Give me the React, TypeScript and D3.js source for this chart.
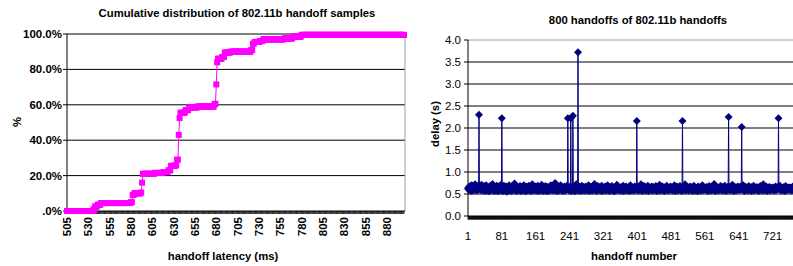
import React from "react";
import * as d3 from "d3";

// ---- left chart: CDF of handoff latency (step breakpoints)
const cdfLatency = [505, 536, 538, 541, 545, 580, 582, 584, 592, 593, 594, 608, 618, 624, 627, 633, 634, 636, 637, 638, 644, 648, 658, 678, 680, 681, 682, 687, 690, 697, 721, 723, 725, 731, 735, 760, 770, 780];
const cdfPercent = [0, 1, 2.5, 3.5, 4.5, 5, 9, 10, 10.5, 16, 21, 21.5, 22, 23, 25.5, 26, 29, 43, 52.5, 55.5, 57, 58.5, 59, 60.5, 71.5, 84, 86, 87, 89.5, 90, 91, 94.5, 95.5, 96, 97, 97.5, 98.5, 99.5];
const latencyFirst = 505;
const latencyLast = 900;
const latencyTicks = [505, 530, 555, 580, 605, 630, 655, 680, 705, 730, 755, 780, 805, 830, 855, 880];
const percentTicks = [0, 20, 40, 60, 80, 100];

// ---- right chart: delay of each of 800 handoffs (hundredths of a second)
const baseDelay = [
  63,61,66,59,62,68,60,57,64,70,62,58,65,61,67,60,63,72,59,62,66,58,64,61,69,60,57,63,67,62,59,65,71,60,62,58,66,63,60,68,
  61,57,64,70,62,59,66,60,63,56,65,61,68,62,58,64,60,67,73,61,59,63,57,66,62,60,65,58,69,63,61,56,64,67,60,62,59,65,71,58,
  62,66,60,57,63,69,61,58,64,62,67,59,55,63,60,66,62,70,58,61,65,60,63,57,68,62,59,64,61,66,74,60,58,63,67,61,57,62,65,60,
  64,59,62,68,60,57,63,66,61,58,65,62,70,59,61,64,56,63,67,60,62,58,66,61,69,63,59,62,57,65,60,64,72,61,58,63,66,60,62,59,
  67,61,58,64,62,69,60,57,63,65,61,59,66,62,71,58,60,64,62,57,65,63,60,68,61,59,63,56,66,62,64,60,58,67,63,61,70,59,62,65,
  60,63,58,66,62,61,75,59,64,60,57,63,68,61,62,58,65,60,63,70,59,61,66,62,57,64,60,63,67,61,58,62,65,60,69,63,59,61,64,58,
  66,62,60,63,57,65,61,68,59,62,64,60,56,63,66,61,72,59,62,60,65,58,63,67,61,60,64,57,62,69,60,63,59,66,62,58,64,61,67,60,
  62,58,65,61,63,70,60,57,64,62,66,59,61,63,58,67,62,60,64,73,59,62,65,61,57,63,60,68,62,59,64,61,66,58,63,60,69,62,57,64,
  61,65,59,62,67,60,63,58,64,61,70,62,59,63,66,57,62,60,65,61,68,59,62,64,60,56,63,66,61,58,64,62,71,60,59,63,65,61,62,58,
  64,60,66,62,58,63,61,69,57,62,65,60,63,59,67,61,62,58,64,60,66,63,57,62,70,61,59,64,62,60,65,58,63,61,67,59,62,64,60,56,
  63,67,60,58,64,62,66,59,61,72,60,63,57,65,62,60,68,61,59,64,62,66,58,63,60,69,61,57,64,62,65,60,63,59,67,61,58,62,66,60,
  59,62,65,61,68,60,57,63,66,62,60,64,58,71,61,63,59,65,62,60,67,58,62,64,61,57,66,63,60,62,69,59,64,61,58,63,65,60,62,67,
  62,60,64,58,63,66,61,59,70,62,57,64,60,63,67,61,58,62,65,60,63,68,59,62,64,57,61,66,60,63,59,65,62,72,60,58,64,61,63,60,
  65,61,58,63,62,67,60,64,59,62,66,57,63,61,69,60,62,58,65,63,60,64,61,56,67,62,59,63,60,66,62,58,64,61,70,60,63,59,62,65,
  60,64,62,59,66,61,63,57,65,62,68,60,61,64,58,62,67,60,63,59,64,61,73,60,57,63,62,66,59,61,64,60,58,65,62,63,60,68,61,59,
  63,66,60,62,58,64,61,69,60,63,57,62,65,61,60,67,59,63,62,58,66,61,64,60,62,71,59,63,57,64,61,66,60,62,58,65,63,60,67,61,
  62,59,64,61,67,60,63,58,62,65,60,70,61,57,64,62,59,66,63,60,62,58,65,61,68,60,63,59,64,62,57,66,61,63,60,69,62,58,64,61,
  64,60,62,66,59,63,61,57,65,62,60,68,63,59,62,64,61,58,72,60,63,65,59,62,61,67,60,57,64,62,59,63,66,60,62,58,65,61,63,60,
  61,65,60,63,58,64,62,67,59,61,63,60,66,62,57,64,61,69,60,63,58,62,65,61,60,64,59,66,62,57,63,68,60,62,64,59,61,65,60,62,
  63,60,65,61,58,64,62,59,67,60,62,64,57,63,61,66,60,70,62,59,64,61,63,58,65,60,62,67,59,61,63,57,64,62,60,66,61,63,58,62,
];
const spikeHandoff = [27, 81, 237, 244, 249, 261, 400, 508, 617, 648, 735];
const spikeDelay = [2.3, 2.22, 2.22, 2.22, 2.28, 3.72, 2.16, 2.16, 2.25, 2.02, 2.22];
const handoffTicks = [1, 81, 161, 241, 321, 401, 481, 561, 641, 721];
const delayTicks = [0, 0.5, 1, 1.5, 2, 2.5, 3, 3.5, 4];

const FONT = "Arial, 'Liberation Sans', sans-serif";
const MAGENTA = "#ff00ff";
const NAVY = "#000080";

function CdfChart() {
  const x = d3.scaleLinear().domain([latencyFirst, latencyLast]).range([67, 404]);
  const y = d3.scaleLinear().domain([0, 100]).range([211, 34]);
  const cats = d3.range(latencyFirst, latencyLast + 1);
  const points = cats.map((ms) => {
    const i = d3.bisectRight(cdfLatency, ms) - 1;
    return { ms, p: cdfPercent[Math.max(0, i)] };
  });
  const line = d3.line<{ ms: number; p: number }>().x((d) => x(d.ms)).y((d) => y(d.p));

  return (
    <g fontFamily={FONT} fontWeight="bold">
      <text x={237} y={17} textAnchor="middle" fontSize={11.3}>
        Cumulative distribution of 802.11b handoff samples
      </text>
      {/* grid */}
      {percentTicks.filter((t) => t > 0).map((t) => (
        <line key={t} x1={x(latencyFirst)} x2={405} y1={y(t)} y2={y(t)} stroke="#000" strokeWidth={1} />
      ))}
      <line x1={405} x2={405} y1={y(100)} y2={y(0)} stroke="#a0a0a0" />
      {/* y axis */}
      <line x1={67} x2={67} y1={y(100)} y2={y(0)} stroke="#000" />
      {percentTicks.map((t) => (
        <g key={t}>
          <line x1={63} x2={67} y1={y(t)} y2={y(t)} stroke="#000" />
          <text x={62} y={y(t) + 4} textAnchor="end" fontSize={11.5}>
            {t === 0 ? ".0%" : `${t.toFixed(1)}%`}
          </text>
        </g>
      ))}
      {/* x axis with a tick at every category */}
      <line x1={67} x2={405} y1={y(0)} y2={y(0)} stroke="#000" />
      {cats.map((c) => (
        <line key={c} x1={x(c)} x2={x(c)} y1={y(0)} y2={y(0) + 3} stroke="#000" strokeWidth={0.8} />
      ))}
      {latencyTicks.map((t) => (
        <text key={t} transform={`translate(${x(t) + 4},217) rotate(-90)`} textAnchor="end" fontSize={11.5}>
          {t}
        </text>
      ))}
      <text x={223} y={260} textAnchor="middle" fontSize={11.3}>
        handoff latency (ms)
      </text>
      <text transform="translate(21,122) rotate(-90)" textAnchor="middle" fontSize={11.3}>
        %
      </text>
      {/* series */}
      <path d={line(points) ?? ""} fill="none" stroke={MAGENTA} strokeWidth={1} />
      {points.map((d) => (
        <rect key={d.ms} x={x(d.ms) - 3} y={y(d.p) - 3} width={6} height={6} fill={MAGENTA} />
      ))}
    </g>
  );
}

function DelayChart() {
  const x = d3.scaleLinear().domain([1, 800]).range([468, 806]);
  const y = d3.scaleLinear().domain([0, 4]).range([216, 40]);
  const data = baseDelay.map((v, i) => {
    const k = spikeHandoff.indexOf(i + 1);
    return { n: i + 1, d: k >= 0 ? spikeDelay[k] : v / 100 };
  });
  const line = d3.line<{ n: number; d: number }>().x((p) => x(p.n)).y((p) => y(p.d));
  const diamond = (cx: number, cy: number, r: number) =>
    `M${cx},${cy - r}L${cx + r},${cy}L${cx},${cy + r}L${cx - r},${cy}Z`;

  return (
    <g fontFamily={FONT}>
      <text x={638} y={24} textAnchor="middle" fontSize={11.3} fontWeight="bold">
        800 handoffs of 802.11b handoffs
      </text>
      {delayTicks.filter((t) => t > 0).map((t) => (
        <line key={t} x1={468} x2={806} y1={y(t)} y2={y(t)} stroke={t === 4 ? "#a0a0a0" : "#000"} />
      ))}
      <line x1={468} x2={468} y1={y(4)} y2={y(0)} stroke="#000" />
      {delayTicks.map((t) => (
        <g key={t}>
          <line x1={464} x2={468} y1={y(t)} y2={y(t)} stroke="#000" />
          <text x={461} y={y(t) + 4} textAnchor="end" fontSize={11.5}>
            {t.toFixed(1)}
          </text>
        </g>
      ))}
      <line x1={468} x2={806} y1={y(0)} y2={y(0)} stroke="#000" />
      {data.map((p) => (
        <line key={p.n} x1={x(p.n)} x2={x(p.n)} y1={y(0)} y2={y(0) + 3.5} stroke="#000" strokeWidth={0.8} />
      ))}
      {handoffTicks.map((t) => (
        <text key={t} x={x(t)} y={240} textAnchor="middle" fontSize={11.5}>
          {t}
        </text>
      ))}
      <text x={634} y={260} textAnchor="middle" fontSize={11.3} fontWeight="bold">
        handoff number
      </text>
      <text transform="translate(439,124) rotate(-90)" textAnchor="middle" fontSize={11.3} fontWeight="bold">
        delay (s)
      </text>
      <path d={line(data) ?? ""} fill="none" stroke={NAVY} strokeWidth={1} />
      {data.map((p) => (
        <path key={p.n} d={diamond(x(p.n), y(p.d), 4)} fill={NAVY} />
      ))}
    </g>
  );
}

export default function App() {
  return (
    <svg
      width={793}
      height={266}
      style={{ position: "absolute", left: 0, top: 0, background: "#fff" }}
    >
      <rect width={793} height={266} fill="#fff" />
      <CdfChart />
      <DelayChart />
    </svg>
  );
}
